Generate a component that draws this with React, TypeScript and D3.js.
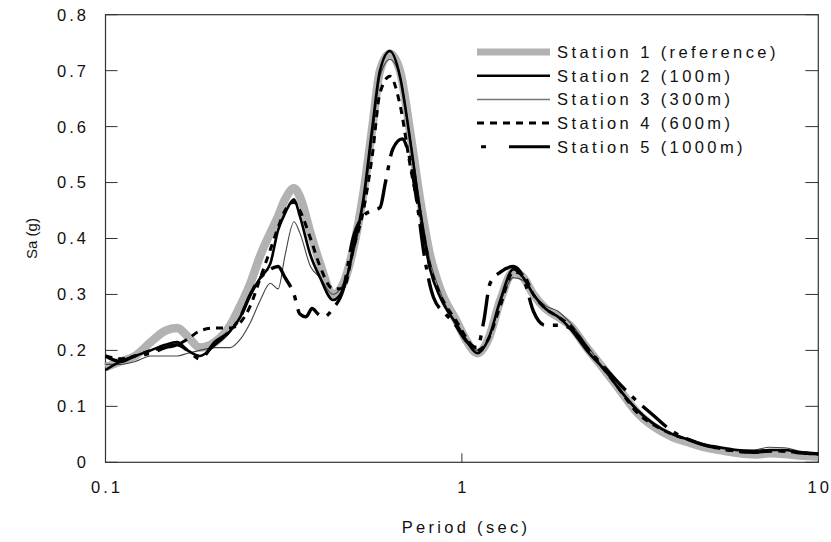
import React from "react";
import * as d3 from "d3";

const periods = [0.1,0.11,0.121,0.134,0.147,0.159,0.17,0.184,0.203,0.224,0.239,0.255,0.272,0.29,0.305,0.319,0.338,0.351,0.376,0.4,0.435,0.465,0.495,0.529,0.561,0.589,0.628,0.67,0.716,0.763,0.814,0.869,0.97,1.035,1.105,1.186,1.282,1.394,1.487,1.587,1.714,1.861,2.008,2.24,2.55,2.77,3.09,3.43,3.9,4.35,4.72,5.27,5.88,6.61,7.28,8.03,8.85,10];

const station1 = [0.17,0.18,0.19,0.215,0.235,0.24,0.225,0.205,0.215,0.245,0.28,0.32,0.37,0.41,0.44,0.47,0.49,0.475,0.41,0.355,0.30,0.32,0.38,0.48,0.6,0.7,0.73,0.70,0.59,0.47,0.37,0.31,0.25,0.215,0.195,0.22,0.29,0.34,0.33,0.3,0.275,0.26,0.245,0.205,0.16,0.13,0.09,0.065,0.045,0.035,0.028,0.022,0.017,0.014,0.016,0.015,0.012,0.01];

const station2 = [0.165,0.18,0.19,0.2,0.21,0.215,0.2,0.19,0.21,0.235,0.26,0.3,0.33,0.355,0.415,0.445,0.47,0.44,0.37,0.33,0.29,0.31,0.38,0.47,0.6,0.7,0.735,0.69,0.575,0.45,0.345,0.295,0.245,0.215,0.195,0.22,0.29,0.345,0.33,0.3,0.275,0.26,0.24,0.2,0.16,0.13,0.095,0.07,0.05,0.04,0.032,0.027,0.022,0.02,0.022,0.022,0.018,0.015];

const station3 = [0.175,0.175,0.18,0.19,0.19,0.19,0.195,0.2,0.205,0.205,0.22,0.25,0.29,0.32,0.31,0.37,0.43,0.41,0.35,0.33,0.3,0.32,0.37,0.46,0.58,0.69,0.72,0.69,0.58,0.46,0.36,0.305,0.24,0.215,0.2,0.22,0.285,0.33,0.325,0.3,0.28,0.27,0.25,0.21,0.16,0.13,0.092,0.068,0.05,0.04,0.033,0.027,0.022,0.022,0.027,0.026,0.02,0.016];

const station4 = [0.19,0.185,0.19,0.2,0.205,0.21,0.22,0.235,0.24,0.24,0.25,0.28,0.33,0.38,0.42,0.45,0.465,0.45,0.4,0.35,0.31,0.31,0.38,0.45,0.55,0.66,0.69,0.64,0.53,0.44,0.35,0.3,0.25,0.22,0.2,0.22,0.28,0.34,0.335,0.3,0.275,0.26,0.245,0.205,0.16,0.13,0.09,0.068,0.05,0.04,0.032,0.025,0.02,0.018,0.02,0.02,0.017,0.014];

const periods5 = [0.1,0.11,0.121,0.134,0.147,0.159,0.17,0.184,0.203,0.224,0.239,0.255,0.272,0.29,0.305,0.319,0.338,0.351,0.365,0.38,0.395,0.41,0.435,0.465,0.495,0.529,0.561,0.589,0.61,0.64,0.68,0.71,0.75,0.784,0.832,0.9,0.948,1.035,1.105,1.15,1.2,1.282,1.394,1.487,1.587,1.714,1.861,2.008,2.24,2.55,2.77,3.09,3.43,3.9,4.35,4.72,5.27,5.88,6.61,7.28,8.03,8.85,10];

const station5 = [0.19,0.18,0.19,0.195,0.205,0.21,0.2,0.185,0.215,0.235,0.26,0.3,0.33,0.345,0.35,0.33,0.3,0.265,0.26,0.275,0.265,0.26,0.275,0.31,0.4,0.44,0.45,0.455,0.5,0.56,0.578,0.55,0.46,0.37,0.295,0.265,0.25,0.215,0.205,0.25,0.32,0.34,0.35,0.33,0.27,0.245,0.245,0.24,0.205,0.165,0.14,0.11,0.085,0.055,0.04,0.032,0.025,0.02,0.018,0.02,0.02,0.017,0.015];

const legendLabels = ["Station 1 (reference)", "Station 2 (100m)", "Station 3 (300m)", "Station 4 (600m)", "Station 5 (1000m)"];
const yTicks = [0, 0.1, 0.2, 0.3, 0.4, 0.5, 0.6, 0.7, 0.8];
const xTicks = [0.1, 1, 10];

const FONT = "'Liberation Sans', Arial, Helvetica, sans-serif";

export default function App() {
  const x = d3.scaleLog().domain([0.1, 10]).range([105.5, 818.3]);
  const y = d3.scaleLinear().domain([0, 0.8]).range([462.3, 14.7]);

  const line = d3
    .line<[number, number]>()
    .x((d) => x(d[0]))
    .y((d) => y(d[1]))
    .curve(d3.curveMonotoneX);

  const zip = (ts: number[], vs: number[]) => ts.map((t, i) => [t, vs[i]] as [number, number]);

  const styles = [
    { data: zip(periods, station1), stroke: "#b2b2b2", width: 8.5, dash: undefined as string | undefined },
    { data: zip(periods, station3), stroke: "#444", width: 1.1, dash: undefined },
    { data: zip(periods, station2), stroke: "#000", width: 2.6, dash: undefined },
    { data: zip(periods, station4), stroke: "#000", width: 3, dash: "7 6" },
    { data: zip(periods5, station5), stroke: "#000", width: 3.4, dash: "32 9 5 9" },
  ];

  const legendStyles = [
    { stroke: "#b2b2b2", width: 7, dash: undefined as string | undefined },
    { stroke: "#000", width: 2.6, dash: undefined },
    { stroke: "#777", width: 1.5, dash: undefined },
    { stroke: "#000", width: 3, dash: "7 6" },
    { stroke: "#000", width: 3, dash: "0 4 5 23 42 30" },
  ];

  const [x0, x1] = x.range();
  const [y0, y1] = y.range();

  return (
    <svg
      width={831}
      height={542}
      style={{ position: "absolute", left: 0, top: 0, background: "#fff" }}
      fontFamily={FONT}
    >
      <rect x={0} y={0} width={831} height={542} fill="#fff" />
      <rect x={x0} y={y1} width={x1 - x0} height={y0 - y1} fill="none" stroke="#333" strokeWidth={1.2} />
      {yTicks.map((t) => (
        <g key={"yt" + t}>
          <line x1={x0} x2={x0 + 12} y1={y(t)} y2={y(t)} stroke="#333" strokeWidth={1} />
          <line x1={x1 - 13} x2={x1} y1={y(t)} y2={y(t)} stroke="#333" strokeWidth={1} />
          <text
            x={89}
            y={y(t)}
            dy="0.36em"
            textAnchor="end"
            fontSize={16.5}
            letterSpacing={3}
            fill="#111"
          >
            {t === 0 ? "0" : d3.format(".1f")(t)}
          </text>
        </g>
      ))}
      {xTicks.map((t) => (
        <g key={"xt" + t}>
          <line x1={x(t)} x2={x(t)} y1={y0} y2={y0 - 9} stroke="#333" strokeWidth={1} />
          <text x={x(t) + 1.5} y={493} textAnchor="middle" fontSize={16.5} letterSpacing={3} fill="#111">
            {String(t)}
          </text>
        </g>
      ))}
      <text x={466} y={533} textAnchor="middle" fontSize={16.5} letterSpacing={3.3} fill="#111">
        Period (sec)
      </text>
      <text
        transform={`translate(37,${(y0 + y1) / 2}) rotate(-90)`}
        textAnchor="middle"
        fontSize={15}
        fill="#111"
      >
        Sa (g)
      </text>

      {styles.map((s, i) => (
        <path
          key={"s" + i}
          d={line(s.data) || ""}
          fill="none"
          stroke={s.stroke}
          strokeWidth={s.width}
          strokeDasharray={s.dash}
          strokeLinejoin="round"
        />
      ))}

      {legendLabels.map((lab, i) => {
        const ly = 52 + i * 23.7;
        const ls = legendStyles[i];
        return (
          <g key={"lg" + i}>
            <line x1={477} x2={550} y1={ly} y2={ly} stroke={ls.stroke} strokeWidth={ls.width} strokeDasharray={ls.dash} />
            <text x={557} y={ly} dy="0.36em" fontSize={16.5} letterSpacing={3.4} fill="#111">
              {lab}
            </text>
          </g>
        );
      })}
    </svg>
  );
}
